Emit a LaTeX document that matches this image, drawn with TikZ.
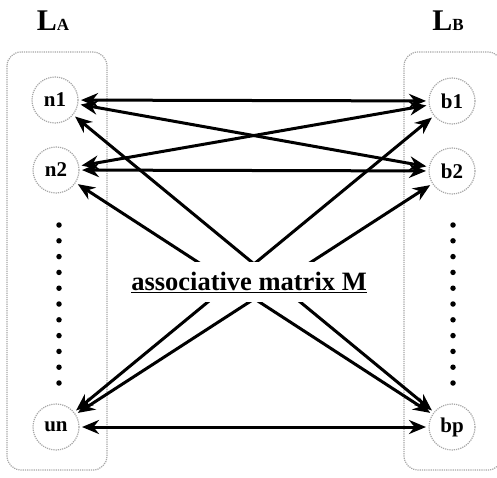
\documentclass[tikz,border=0pt]{standalone}
\usepackage{fontspec}
\setmainfont{Liberation Serif}
\usetikzlibrary{arrows.meta}
\begin{document}
\begin{tikzpicture}[x=1pt,y=-1pt,
  group/.style={draw=gray!70, densely dotted, line width=1.2pt, rounded corners=14pt},
  item/.style={circle, draw=gray!70, densely dotted, line width=1.2pt, minimum size=46pt,
    inner sep=0pt, outer sep=3pt, font=\fontsize{21}{21}\selectfont\bfseries},
  link/.style={line width=3pt, black,
    {Stealth[length=17pt,width=14pt]}-{Stealth[length=17pt,width=14pt]}},
  dotmark/.style={circle, fill=black, inner sep=0pt, minimum size=5.5pt},
  layer/.style={inner sep=0pt, font=\bfseries}]
  \useasboundingbox (0,0) rectangle (497,477);
  % the two layers
  \draw[group] (7,52) rectangle (107,470);
  \draw[group] (404,52) rectangle (502,470);
  \node[layer, anchor=base] (la) at (53,30) {\fontsize{30}{30}\selectfont L\fontsize{17}{17}\selectfont A};
  \node[layer, anchor=base] (lb) at (448,30) {\fontsize{30}{30}\selectfont L\fontsize{17}{17}\selectfont B};
  % nodes of layer A
  \node[item] (n1) at (55,100) {n1};
  \node[item] (n2) at (56,170) {n2};
  \node[item] (un) at (56,427) {un};
  % nodes of layer B
  \node[item] (b1) at (452,101) {b1};
  \node[item] (b2) at (452,171) {b2};
  \node[item] (bp) at (452,427) {bp};
  % elided nodes
  \foreach \k in {0,...,10} {
    \node[dotmark] (da\k) at (59,225+15.8*\k) {};
    \node[dotmark] (db\k) at (453,225+15.8*\k) {};
  }
  % associations
  \foreach \a in {n1,n2,un} {
    \foreach \b in {b1,b2,bp} {
      \draw[link] (\a) -- (\b);
    }
  }
  \node[fill=white, inner xsep=2pt, inner ysep=10pt, font=\fontsize{26.5}{26.5}\selectfont\bfseries]
    (m) at (249,282) {\underline{associative matrix M}};
\end{tikzpicture}
\end{document}
